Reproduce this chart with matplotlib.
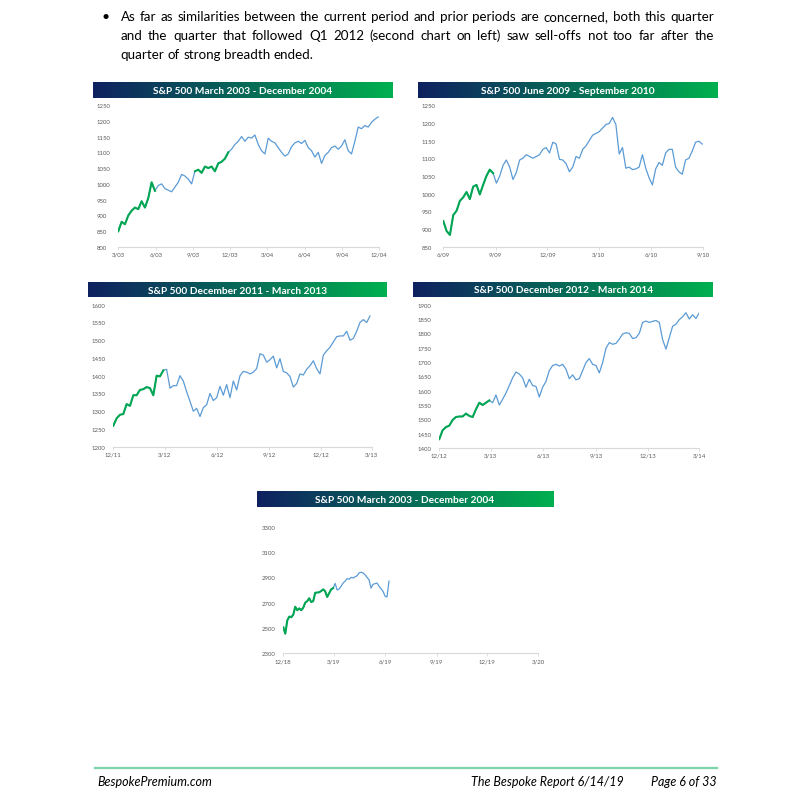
import matplotlib
matplotlib.use("Agg")
import matplotlib.pyplot as plt
import numpy as np
import pandas as pd
from matplotlib.colors import LinearSegmentedColormap

W, H = 793, 803
BLUE = "#5b9bd5"
GREEN = "#00a651"
TICK_GRAY = "#595959"
AXIS_GRAY = "#d9d9d9"
BAR_CMAP = LinearSegmentedColormap.from_list("bar", ["#0f2160", "#00b04f"])

plt.rcParams["font.family"] = ["Lato", "DejaVu Sans"]

# ---- data: S&P 500 closes (evenly spaced in time) ----
spx_2003_dates = ("2003-03-01", "2004-11-29")
spx_2003 = [850, 880, 872, 900, 915, 925, 920, 945, 925, 955, 1005, 978, 995, 1000,
            985, 980, 975, 990, 1005, 1030, 1025, 1015, 1000, 1040, 1045, 1035, 1055,
            1050, 1055, 1040, 1065, 1070, 1080, 1100, 1110, 1125, 1135, 1150, 1135,
            1148, 1145, 1155, 1125, 1105, 1095, 1145, 1135, 1130, 1115, 1100, 1088,
            1095, 1118, 1130, 1135, 1128, 1138, 1115, 1105, 1085, 1100, 1065, 1090,
            1100, 1115, 1120, 1110, 1120, 1140, 1105, 1095, 1135, 1180, 1175, 1185,
            1180, 1195, 1205, 1212]
spx_2003_green = [("2003-03-01", "2003-06-01"), ("2003-09-01", "2003-12-01")]

spx_2009_dates = ("2009-06-01", "2010-08-30")
spx_2009 = [923, 895, 884, 940, 952, 980, 990, 1005, 985, 1020, 1025, 998, 1025, 1050,
            1068, 1058, 1030, 1050, 1080, 1095, 1075, 1040, 1060, 1095, 1100, 1110,
            1105, 1100, 1105, 1110, 1125, 1130, 1115, 1145, 1140, 1097, 1095, 1085,
            1062, 1075, 1105, 1100, 1125, 1135, 1150, 1165, 1170, 1175, 1185, 1195,
            1198, 1215, 1195, 1112, 1130, 1072, 1075, 1068, 1070, 1075, 1110, 1072,
            1045, 1025, 1070, 1088, 1080, 1115, 1125, 1125, 1075, 1062, 1055, 1095,
            1100, 1120, 1145, 1148, 1140]
spx_2009_green = [("2009-06-01", "2009-09-01")]

spx_2011_dates = ("2011-12-01", "2013-02-26")
spx_2011 = [1259, 1280, 1290, 1292, 1320, 1315, 1345, 1345, 1360, 1362, 1368, 1365,
            1345, 1400, 1398, 1415, 1418, 1365, 1372, 1372, 1400, 1385, 1355, 1328,
            1300, 1308, 1285, 1310, 1318, 1350, 1330, 1338, 1370, 1345, 1375, 1338,
            1385, 1360, 1400, 1412, 1410, 1405, 1410, 1420, 1462, 1458, 1438, 1445,
            1455, 1422, 1448, 1412, 1408, 1398, 1368, 1378, 1405, 1402, 1418, 1428,
            1442, 1420, 1405, 1458, 1470, 1480, 1495, 1510, 1512, 1512, 1525, 1500,
            1505, 1525, 1550, 1558, 1550, 1568]
spx_2011_green = [("2011-12-01", "2012-03-01")]

spx_2012_dates = ("2012-12-01", "2014-03-01")
spx_2012 = [1431, 1462, 1473, 1478, 1498, 1508, 1510, 1510, 1520, 1512, 1508, 1535,
            1558, 1550, 1558, 1566, 1558, 1585, 1550, 1570, 1592, 1618, 1645, 1665,
            1658, 1645, 1612, 1640, 1618, 1615, 1578, 1612, 1632, 1670, 1688, 1692,
            1686, 1692, 1675, 1642, 1655, 1638, 1642, 1670, 1698, 1712, 1692, 1688,
            1662, 1698, 1748, 1768, 1762, 1765, 1780, 1798, 1802, 1800, 1782, 1785,
            1800, 1838, 1843, 1838, 1842, 1845, 1838, 1778, 1745, 1785, 1825, 1832,
            1848, 1858, 1872, 1850, 1865, 1852, 1872]
spx_2012_green = [("2012-12-01", "2013-03-01")]

spx_2018_dates = ("2018-12-01", "2019-06-08")
spx_2018 = [2505, 2455, 2560, 2590, 2585, 2605, 2668, 2640, 2655, 2640, 2660, 2700,
            2712, 2735, 2705, 2712, 2778, 2780, 2782, 2792, 2805, 2790, 2745, 2775,
            2805, 2815, 2852, 2800, 2808, 2830, 2855, 2870, 2890, 2885, 2900, 2895,
            2905, 2912, 2935, 2940, 2935, 2920, 2900, 2880, 2815, 2845, 2850, 2855,
            2830, 2810, 2790, 2752, 2745, 2870]
spx_2018_green = [("2018-12-01", "2019-03-01")]

body_lines = [
    "As far as similarities between the current period and prior periods are concerned, both this quarter",
    "and the quarter that followed Q1 2012 (second chart on left) saw sell-offs not too far after the",
    "quarter of strong breadth ended.",
]


def px_rect(left, top, right, bottom):
    return [left / W, 1 - bottom / H, (right - left) / W, (bottom - top) / H]


def title_bar(fig, box, title):
    bax = fig.add_axes(px_rect(*box))
    bax.imshow(np.linspace(0, 1, 256)[None, :], aspect="auto", cmap=BAR_CMAP,
               extent=(0, 1, 0, 1))
    bax.set_axis_off()
    bax.text(0.5, 0.47, title, ha="center", va="center", color="white",
             fontsize=7.3, fontweight="bold", transform=bax.transAxes)


def chart(fig, ax_box, bar_box, title, span, values, green, xlim, yticks):
    ax = fig.add_axes(px_rect(*ax_box))
    dates = pd.date_range(span[0], span[1], periods=len(values))
    s = pd.Series(values, index=dates)
    ax.plot(s.index, s.values, color=BLUE, lw=0.9)
    for g0, g1 in green:
        seg = s[g0:g1]
        ax.plot(seg.index, seg.values, color=GREEN, lw=1.5)

    ticks = pd.date_range(xlim[0], xlim[1], freq="3MS")
    ax.set_xlim(ticks[0], ticks[-1])
    ax.set_xticks(ticks)
    ax.set_xticklabels([f"{d.month}/{d:%y}" for d in ticks])
    ax.set_ylim(yticks[0], yticks[-1])
    ax.set_yticks(yticks)
    ax.set_yticklabels([str(v) for v in yticks])
    for lab in ax.get_yticklabels():
        lab.set_horizontalalignment("left")

    for side in ("top", "right", "left"):
        ax.spines[side].set_visible(False)
    ax.spines["bottom"].set_color(AXIS_GRAY)
    ax.spines["bottom"].set_linewidth(0.8)
    ax.tick_params(axis="x", length=2, width=0.6, color=AXIS_GRAY, pad=1.5,
                   labelsize=4.3, labelcolor=TICK_GRAY)
    ax.tick_params(axis="y", length=0, pad=15.5, labelsize=4.3, labelcolor=TICK_GRAY)
    ax.set_facecolor("none")
    title_bar(fig, bar_box, title)
    return ax


def justified(fig, text, x0, x1, y, justify=True, **kw):
    r = fig.canvas.get_renderer()
    words = text.split(" ")
    objs = [fig.text(0, 1 - y / H, w, va="baseline", **kw) for w in words]
    widths = [t.get_window_extent(r).width for t in objs]
    probe = fig.text(0, 0, "a a", alpha=0, **kw)
    probe2 = fig.text(0, 0, "aa", alpha=0, **kw)
    sp = probe.get_window_extent(r).width - probe2.get_window_extent(r).width
    probe.remove()
    probe2.remove()
    gap = (x1 - x0 - sum(widths)) / (len(words) - 1) if justify else sp
    x = x0
    for t, w in zip(objs, widths):
        t.set_x(x / W)
        x += w + gap


fig = plt.figure(figsize=(W / 100, H / 100), dpi=100)
fig.patch.set_facecolor("white")

# bullet paragraph
fig.text(101.5 / W, 1 - 20.7 / H, "\u2022", fontsize=10, va="baseline")
baselines = [20.7, 40.0, 59.3]
for i, (line, yb) in enumerate(zip(body_lines, baselines)):
    justified(fig, line, 120.7, 714, yb, justify=(i < 2), fontsize=9.6, color="black")

chart(fig, (118.3, 106, 379, 248), (93, 83, 393, 99),
      "S&P 500 March 2003 - December 2004", spx_2003_dates, spx_2003, spx_2003_green,
      ("2003-03-01", "2004-12-01"), list(range(800, 1251, 50)))
chart(fig, (443.3, 106, 703.3, 248), (418.3, 83, 718.3, 99),
      "S&P 500 June 2009 - September 2010", spx_2009_dates, spx_2009, spx_2009_green,
      ("2009-06-01", "2010-09-01"), list(range(850, 1251, 50)))
chart(fig, (113.3, 305.7, 371.7, 447.7), (87.7, 283, 386.7, 298.5),
      "S&P 500 December 2011 - March 2013", spx_2011_dates, spx_2011, spx_2011_green,
      ("2011-12-01", "2013-03-01"), list(range(1200, 1601, 50)))
chart(fig, (439.3, 305.7, 699.3, 449), (413.3, 282.5, 713.3, 298.5),
      "S&P 500 December 2012 - March 2014", spx_2012_dates, spx_2012, spx_2012_green,
      ("2012-12-01", "2014-03-01"), list(range(1400, 1901, 50)))
chart(fig, (283.3, 527.7, 538.3, 654.3), (256.7, 491.7, 552.7, 507.7),
      "S&P 500 March 2003 - December 2004", spx_2018_dates, spx_2018, spx_2018_green,
      ("2018-12-01", "2020-03-01"), list(range(2300, 3301, 200)))

# footer
fig.add_artist(plt.Line2D([95 / W, 717 / W], [1 - 769 / H] * 2, color="#7dd3a8", lw=1.6))
foot = dict(fontsize=9, style="italic", color="black", va="baseline")
fig.text(97 / W, 1 - 786.5 / H, "BespokePremium.com", **foot)
fig.text(624 / W, 1 - 786.5 / H, "The Bespoke Report 6/14/19", ha="right", **foot)
fig.text(717 / W, 1 - 786.5 / H, "Page 6 of 33", ha="right", **foot)

fig.savefig("out.png", dpi=100, facecolor="white")
